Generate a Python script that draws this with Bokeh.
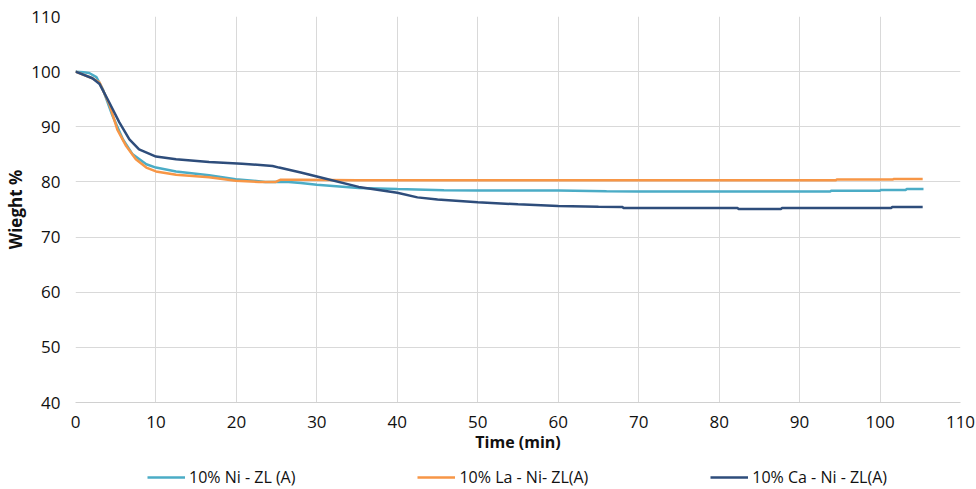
from bokeh.plotting import figure
from bokeh.models import Range1d, FixedTicker, Legend, LegendItem
from bokeh.layouts import column
from bokeh.embed import file_html
from bokeh.resources import INLINE

# 10% Ni - ZL (A)
t_ni = [0, 1, 1.7, 2.6, 3.4, 4.6, 5.9, 7.1, 8.8, 10, 12.5, 16.6, 19.9, 23.6, 26.1, 28, 30, 35.2, 40, 45.8, 50, 60, 66, 70, 80, 93.8, 93.9, 100, 100.1, 103.2, 103.3, 105.4]
v_ni = [100, 99.9, 99.75, 99, 96.8, 92, 87.7, 85, 83.2, 82.6, 81.9, 81.2, 80.5, 80, 80.05, 79.8, 79.5, 78.9, 78.7, 78.5, 78.45, 78.45, 78.3, 78.25, 78.25, 78.25, 78.4, 78.4, 78.55, 78.55, 78.73, 78.73]

# 10% La - Ni- ZL(A)
t_la = [0, 2.1, 3, 4.2, 5.2, 6.3, 7.5, 8.8, 10, 12.5, 16.6, 19.9, 22.8, 24.9, 25.5, 28, 35, 50, 94.5, 94.6, 101.6, 101.7, 105.3]
v_la = [100, 98.8, 98, 94.1, 89.5, 86.5, 84.1, 82.6, 81.9, 81.3, 80.85, 80.2, 80, 80, 80.4, 80.4, 80.3, 80.3, 80.3, 80.42, 80.42, 80.55, 80.55]

# 10% Ca - Ni - ZL(A)
t_ca = [0, 2.1, 3, 4.2, 5.45, 6.7, 7.9, 10, 12.5, 16.6, 20.7, 24.5, 25.3, 28, 30, 35.2, 40, 42.5, 45, 50, 55, 60, 65, 68, 68.1, 82.3, 82.4, 87.7, 87.8, 101.4, 101.5, 105.3]
v_ca = [100, 98.8, 97.75, 94.4, 90.8, 87.7, 85.9, 84.6, 84.1, 83.6, 83.3, 82.9, 82.6, 81.7, 81.0, 79.1, 78.05, 77.2, 76.8, 76.3, 75.95, 75.65, 75.5, 75.45, 75.27, 75.27, 75.1, 75.1, 75.27, 75.27, 75.45, 75.45]

x_ticks = list(range(0, 111, 10))
y_ticks = list(range(40, 111, 10))

names = ["10% Ni - ZL (A)", "10% La - Ni- ZL(A)", "10% Ca - Ni - ZL(A)"]
colors = ["#4BACC6", "#F79646", "#2E4D7B"]
series = [(t_ni, v_ni), (t_la, v_la), (t_ca, v_ca)]

FONT = "Open Sans"

p = figure(width=976, height=455, output_backend="svg", toolbar_location=None,
           x_range=Range1d(0, 110), y_range=Range1d(40, 110),
           min_border_left=75, min_border_right=16, min_border_top=16, min_border_bottom=50)
p.outline_line_color = None
p.background_fill_color = "white"
p.border_fill_color = "white"

for (t, v), c in zip(series, colors):
    p.line(t, v, line_color=c, line_width=2.5)

p.xaxis.ticker = FixedTicker(ticks=x_ticks)
p.yaxis.ticker = FixedTicker(ticks=y_ticks)
for ax in (p.xaxis[0], p.yaxis[0]):
    ax.major_tick_line_color = None
    ax.minor_tick_line_color = None
    ax.major_label_text_font = FONT
    ax.major_label_text_font_size = "17px"
    ax.major_label_text_color = "#111111"
    ax.axis_label_text_font = FONT
    ax.axis_label_text_font_style = "bold"
    ax.axis_label_text_color = "#111111"
p.xaxis.axis_label_text_font_size = "16px"
p.yaxis.axis_label_text_font_size = "17px"
p.xaxis.axis_line_color = "#D0D0D0"
p.yaxis.axis_line_color = None
p.xaxis.axis_label = "Time (min)"
p.yaxis.axis_label = "Wieght %"
p.xaxis.major_label_standoff = 7
p.xaxis.axis_label_standoff = 0
p.yaxis.major_label_standoff = 9
p.yaxis.axis_label_standoff = 1

p.xgrid.grid_line_color = "#D9D9D9"
p.ygrid.grid_line_color = "#D9D9D9"
p.xgrid.grid_line_width = 1
p.ygrid.grid_line_width = 1

# legend strip below the chart (same series, drawn outside its visible range)
lg = figure(width=976, height=34, output_backend="svg", toolbar_location=None,
            x_range=Range1d(0, 110), y_range=Range1d(0, 1),
            min_border_left=0, min_border_right=0, min_border_top=0, min_border_bottom=0)
lg.outline_line_color = None
lg.axis.visible = False
lg.grid.visible = False
items = []
for (t, v), c, n in zip(series, colors, names):
    r = lg.line(t, v, line_color=c, line_width=2.5)
    items.append(LegendItem(label=n, renderers=[r]))

legend = Legend(items=items, orientation="horizontal", location=(72, 1))
legend.label_text_font = FONT
legend.label_text_font_size = "16px"
legend.label_text_color = "#111111"
legend.glyph_width = 38
legend.glyph_height = 16
legend.label_standoff = 4
legend.spacing = 122
legend.padding = 0
legend.margin = 0
legend.border_line_color = None
legend.background_fill_alpha = 0
lg.add_layout(legend, "center")

layout = column(p, lg, spacing=0)
open("out.html", "w").write(file_html(layout, INLINE))
